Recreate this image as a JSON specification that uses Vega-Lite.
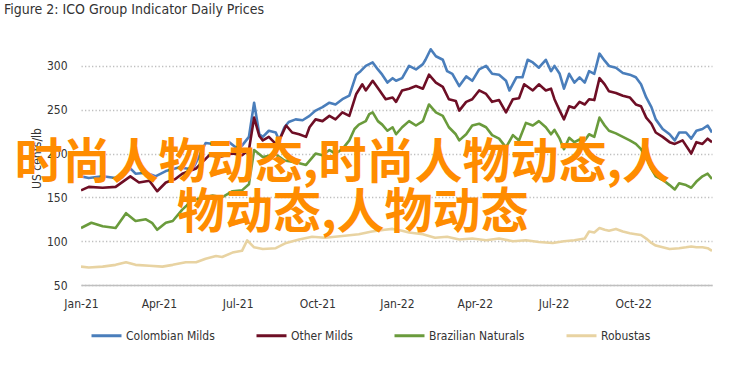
{
  "$schema": "https://vega.github.io/schema/vega-lite/v6.json",
  "width": 631,
  "height": 241,
  "autosize": {"type": "none"},
  "padding": {"left": 81, "top": 44, "right": 30, "bottom": 84},
  "background": "white",
  "config": {
    "font": "Liberation Sans Narrow, DejaVu Sans Condensed, Roboto, sans-serif",
    "view": {"stroke": null}
  },
  "title": {
    "text": "Figure 2: ICO Group Indicator Daily Prices",
    "anchor": "start",
    "frame": "group",
    "orient": "top",
    "dx": -77,
    "offset": 27,
    "fontSize": 14,
    "fontWeight": "normal",
    "color": "#333333"
  },
  "datasets": {
    "prices": [
      {"d": "2021-01-01", "s": "Colombian Milds", "v": 174},
      {"d": "2021-01-10", "s": "Colombian Milds", "v": 172},
      {"d": "2021-01-26", "s": "Colombian Milds", "v": 174},
      {"d": "2021-02-10", "s": "Colombian Milds", "v": 172},
      {"d": "2021-02-18", "s": "Colombian Milds", "v": 173},
      {"d": "2021-02-27", "s": "Colombian Milds", "v": 183},
      {"d": "2021-03-05", "s": "Colombian Milds", "v": 177},
      {"d": "2021-03-17", "s": "Colombian Milds", "v": 178},
      {"d": "2021-03-28", "s": "Colombian Milds", "v": 174},
      {"d": "2021-04-09", "s": "Colombian Milds", "v": 180},
      {"d": "2021-04-24", "s": "Colombian Milds", "v": 184},
      {"d": "2021-05-10", "s": "Colombian Milds", "v": 182},
      {"d": "2021-05-25", "s": "Colombian Milds", "v": 212},
      {"d": "2021-06-10", "s": "Colombian Milds", "v": 210},
      {"d": "2021-06-21", "s": "Colombian Milds", "v": 213},
      {"d": "2021-06-29", "s": "Colombian Milds", "v": 207},
      {"d": "2021-07-06", "s": "Colombian Milds", "v": 209},
      {"d": "2021-07-14", "s": "Colombian Milds", "v": 219},
      {"d": "2021-07-20", "s": "Colombian Milds", "v": 258},
      {"d": "2021-07-26", "s": "Colombian Milds", "v": 222},
      {"d": "2021-07-30", "s": "Colombian Milds", "v": 219},
      {"d": "2021-08-06", "s": "Colombian Milds", "v": 226},
      {"d": "2021-08-14", "s": "Colombian Milds", "v": 224},
      {"d": "2021-08-18", "s": "Colombian Milds", "v": 215},
      {"d": "2021-08-24", "s": "Colombian Milds", "v": 230},
      {"d": "2021-08-29", "s": "Colombian Milds", "v": 236},
      {"d": "2021-09-06", "s": "Colombian Milds", "v": 239},
      {"d": "2021-09-14", "s": "Colombian Milds", "v": 238},
      {"d": "2021-09-22", "s": "Colombian Milds", "v": 243},
      {"d": "2021-09-29", "s": "Colombian Milds", "v": 249},
      {"d": "2021-10-07", "s": "Colombian Milds", "v": 253},
      {"d": "2021-10-15", "s": "Colombian Milds", "v": 258},
      {"d": "2021-10-22", "s": "Colombian Milds", "v": 256},
      {"d": "2021-10-30", "s": "Colombian Milds", "v": 262},
      {"d": "2021-11-07", "s": "Colombian Milds", "v": 266},
      {"d": "2021-11-15", "s": "Colombian Milds", "v": 290},
      {"d": "2021-11-20", "s": "Colombian Milds", "v": 294},
      {"d": "2021-11-26", "s": "Colombian Milds", "v": 300},
      {"d": "2021-12-04", "s": "Colombian Milds", "v": 304},
      {"d": "2021-12-10", "s": "Colombian Milds", "v": 296},
      {"d": "2021-12-15", "s": "Colombian Milds", "v": 290},
      {"d": "2021-12-21", "s": "Colombian Milds", "v": 281},
      {"d": "2021-12-27", "s": "Colombian Milds", "v": 286},
      {"d": "2021-12-31", "s": "Colombian Milds", "v": 283},
      {"d": "2022-01-07", "s": "Colombian Milds", "v": 286},
      {"d": "2022-01-15", "s": "Colombian Milds", "v": 300},
      {"d": "2022-01-23", "s": "Colombian Milds", "v": 296},
      {"d": "2022-01-31", "s": "Colombian Milds", "v": 302},
      {"d": "2022-02-03", "s": "Colombian Milds", "v": 307},
      {"d": "2022-02-09", "s": "Colombian Milds", "v": 319},
      {"d": "2022-02-15", "s": "Colombian Milds", "v": 311},
      {"d": "2022-02-23", "s": "Colombian Milds", "v": 307},
      {"d": "2022-02-28", "s": "Colombian Milds", "v": 294},
      {"d": "2022-03-06", "s": "Colombian Milds", "v": 291},
      {"d": "2022-03-14", "s": "Colombian Milds", "v": 277},
      {"d": "2022-03-22", "s": "Colombian Milds", "v": 288},
      {"d": "2022-03-29", "s": "Colombian Milds", "v": 283},
      {"d": "2022-04-06", "s": "Colombian Milds", "v": 296},
      {"d": "2022-04-14", "s": "Colombian Milds", "v": 300},
      {"d": "2022-04-21", "s": "Colombian Milds", "v": 291},
      {"d": "2022-04-29", "s": "Colombian Milds", "v": 290},
      {"d": "2022-05-07", "s": "Colombian Milds", "v": 283},
      {"d": "2022-05-11", "s": "Colombian Milds", "v": 272},
      {"d": "2022-05-19", "s": "Colombian Milds", "v": 287},
      {"d": "2022-05-26", "s": "Colombian Milds", "v": 287},
      {"d": "2022-06-01", "s": "Colombian Milds", "v": 307},
      {"d": "2022-06-07", "s": "Colombian Milds", "v": 304},
      {"d": "2022-06-14", "s": "Colombian Milds", "v": 298},
      {"d": "2022-06-22", "s": "Colombian Milds", "v": 307},
      {"d": "2022-06-28", "s": "Colombian Milds", "v": 294},
      {"d": "2022-07-02", "s": "Colombian Milds", "v": 300},
      {"d": "2022-07-08", "s": "Colombian Milds", "v": 291},
      {"d": "2022-07-13", "s": "Colombian Milds", "v": 274},
      {"d": "2022-07-19", "s": "Colombian Milds", "v": 291},
      {"d": "2022-07-25", "s": "Colombian Milds", "v": 281},
      {"d": "2022-07-31", "s": "Colombian Milds", "v": 287},
      {"d": "2022-08-06", "s": "Colombian Milds", "v": 281},
      {"d": "2022-08-11", "s": "Colombian Milds", "v": 294},
      {"d": "2022-08-17", "s": "Colombian Milds", "v": 291},
      {"d": "2022-08-23", "s": "Colombian Milds", "v": 314},
      {"d": "2022-08-29", "s": "Colombian Milds", "v": 306},
      {"d": "2022-09-03", "s": "Colombian Milds", "v": 300},
      {"d": "2022-09-11", "s": "Colombian Milds", "v": 298},
      {"d": "2022-09-19", "s": "Colombian Milds", "v": 292},
      {"d": "2022-09-27", "s": "Colombian Milds", "v": 290},
      {"d": "2022-10-04", "s": "Colombian Milds", "v": 287},
      {"d": "2022-10-10", "s": "Colombian Milds", "v": 279},
      {"d": "2022-10-16", "s": "Colombian Milds", "v": 264},
      {"d": "2022-10-22", "s": "Colombian Milds", "v": 253},
      {"d": "2022-10-27", "s": "Colombian Milds", "v": 239},
      {"d": "2022-11-04", "s": "Colombian Milds", "v": 228},
      {"d": "2022-11-12", "s": "Colombian Milds", "v": 222},
      {"d": "2022-11-18", "s": "Colombian Milds", "v": 215},
      {"d": "2022-11-23", "s": "Colombian Milds", "v": 224},
      {"d": "2022-12-01", "s": "Colombian Milds", "v": 224},
      {"d": "2022-12-07", "s": "Colombian Milds", "v": 217},
      {"d": "2022-12-13", "s": "Colombian Milds", "v": 226},
      {"d": "2022-12-20", "s": "Colombian Milds", "v": 228},
      {"d": "2022-12-26", "s": "Colombian Milds", "v": 232},
      {"d": "2022-12-31", "s": "Colombian Milds", "v": 224},

      {"d": "2021-01-01", "s": "Other Milds", "v": 158},
      {"d": "2021-01-10", "s": "Other Milds", "v": 162},
      {"d": "2021-01-26", "s": "Other Milds", "v": 161},
      {"d": "2021-02-10", "s": "Other Milds", "v": 162},
      {"d": "2021-02-27", "s": "Other Milds", "v": 174},
      {"d": "2021-03-09", "s": "Other Milds", "v": 167},
      {"d": "2021-03-21", "s": "Other Milds", "v": 169},
      {"d": "2021-03-30", "s": "Other Milds", "v": 157},
      {"d": "2021-04-09", "s": "Other Milds", "v": 167},
      {"d": "2021-04-20", "s": "Other Milds", "v": 171},
      {"d": "2021-04-28", "s": "Other Milds", "v": 177},
      {"d": "2021-05-14", "s": "Other Milds", "v": 183},
      {"d": "2021-05-29", "s": "Other Milds", "v": 198},
      {"d": "2021-06-10", "s": "Other Milds", "v": 196},
      {"d": "2021-06-25", "s": "Other Milds", "v": 200},
      {"d": "2021-07-06", "s": "Other Milds", "v": 198},
      {"d": "2021-07-14", "s": "Other Milds", "v": 204},
      {"d": "2021-07-20", "s": "Other Milds", "v": 241},
      {"d": "2021-07-26", "s": "Other Milds", "v": 220},
      {"d": "2021-07-30", "s": "Other Milds", "v": 215},
      {"d": "2021-08-06", "s": "Other Milds", "v": 219},
      {"d": "2021-08-14", "s": "Other Milds", "v": 211},
      {"d": "2021-08-18", "s": "Other Milds", "v": 215},
      {"d": "2021-08-26", "s": "Other Milds", "v": 232},
      {"d": "2021-09-02", "s": "Other Milds", "v": 224},
      {"d": "2021-09-10", "s": "Other Milds", "v": 222},
      {"d": "2021-09-18", "s": "Other Milds", "v": 219},
      {"d": "2021-09-22", "s": "Other Milds", "v": 230},
      {"d": "2021-09-29", "s": "Other Milds", "v": 239},
      {"d": "2021-10-07", "s": "Other Milds", "v": 237},
      {"d": "2021-10-15", "s": "Other Milds", "v": 243},
      {"d": "2021-10-22", "s": "Other Milds", "v": 239},
      {"d": "2021-10-30", "s": "Other Milds", "v": 247},
      {"d": "2021-11-07", "s": "Other Milds", "v": 243},
      {"d": "2021-11-15", "s": "Other Milds", "v": 268},
      {"d": "2021-11-22", "s": "Other Milds", "v": 279},
      {"d": "2021-11-26", "s": "Other Milds", "v": 272},
      {"d": "2021-12-04", "s": "Other Milds", "v": 283},
      {"d": "2021-12-12", "s": "Other Milds", "v": 272},
      {"d": "2021-12-19", "s": "Other Milds", "v": 262},
      {"d": "2021-12-27", "s": "Other Milds", "v": 264},
      {"d": "2021-12-31", "s": "Other Milds", "v": 259},
      {"d": "2022-01-07", "s": "Other Milds", "v": 272},
      {"d": "2022-01-15", "s": "Other Milds", "v": 274},
      {"d": "2022-01-23", "s": "Other Milds", "v": 277},
      {"d": "2022-01-31", "s": "Other Milds", "v": 274},
      {"d": "2022-02-07", "s": "Other Milds", "v": 290},
      {"d": "2022-02-15", "s": "Other Milds", "v": 281},
      {"d": "2022-02-23", "s": "Other Milds", "v": 276},
      {"d": "2022-03-02", "s": "Other Milds", "v": 262},
      {"d": "2022-03-10", "s": "Other Milds", "v": 260},
      {"d": "2022-03-14", "s": "Other Milds", "v": 249},
      {"d": "2022-03-22", "s": "Other Milds", "v": 259},
      {"d": "2022-03-29", "s": "Other Milds", "v": 262},
      {"d": "2022-04-06", "s": "Other Milds", "v": 272},
      {"d": "2022-04-14", "s": "Other Milds", "v": 268},
      {"d": "2022-04-21", "s": "Other Milds", "v": 259},
      {"d": "2022-04-29", "s": "Other Milds", "v": 261},
      {"d": "2022-05-07", "s": "Other Milds", "v": 247},
      {"d": "2022-05-15", "s": "Other Milds", "v": 262},
      {"d": "2022-05-22", "s": "Other Milds", "v": 263},
      {"d": "2022-05-28", "s": "Other Milds", "v": 279},
      {"d": "2022-06-07", "s": "Other Milds", "v": 272},
      {"d": "2022-06-14", "s": "Other Milds", "v": 279},
      {"d": "2022-06-22", "s": "Other Milds", "v": 272},
      {"d": "2022-06-28", "s": "Other Milds", "v": 274},
      {"d": "2022-07-02", "s": "Other Milds", "v": 262},
      {"d": "2022-07-08", "s": "Other Milds", "v": 249},
      {"d": "2022-07-13", "s": "Other Milds", "v": 239},
      {"d": "2022-07-19", "s": "Other Milds", "v": 254},
      {"d": "2022-07-25", "s": "Other Milds", "v": 252},
      {"d": "2022-07-31", "s": "Other Milds", "v": 259},
      {"d": "2022-08-06", "s": "Other Milds", "v": 256},
      {"d": "2022-08-11", "s": "Other Milds", "v": 262},
      {"d": "2022-08-17", "s": "Other Milds", "v": 261},
      {"d": "2022-08-23", "s": "Other Milds", "v": 286},
      {"d": "2022-08-29", "s": "Other Milds", "v": 279},
      {"d": "2022-09-03", "s": "Other Milds", "v": 271},
      {"d": "2022-09-11", "s": "Other Milds", "v": 269},
      {"d": "2022-09-19", "s": "Other Milds", "v": 266},
      {"d": "2022-09-27", "s": "Other Milds", "v": 264},
      {"d": "2022-10-04", "s": "Other Milds", "v": 256},
      {"d": "2022-10-10", "s": "Other Milds", "v": 254},
      {"d": "2022-10-16", "s": "Other Milds", "v": 241},
      {"d": "2022-10-22", "s": "Other Milds", "v": 234},
      {"d": "2022-10-27", "s": "Other Milds", "v": 224},
      {"d": "2022-11-04", "s": "Other Milds", "v": 219},
      {"d": "2022-11-12", "s": "Other Milds", "v": 213},
      {"d": "2022-11-18", "s": "Other Milds", "v": 211},
      {"d": "2022-11-27", "s": "Other Milds", "v": 215},
      {"d": "2022-12-07", "s": "Other Milds", "v": 200},
      {"d": "2022-12-13", "s": "Other Milds", "v": 213},
      {"d": "2022-12-20", "s": "Other Milds", "v": 211},
      {"d": "2022-12-26", "s": "Other Milds", "v": 217},
      {"d": "2022-12-31", "s": "Other Milds", "v": 213},

      {"d": "2021-01-01", "s": "Brazilian Naturals", "v": 115},
      {"d": "2021-01-13", "s": "Brazilian Naturals", "v": 121},
      {"d": "2021-01-26", "s": "Brazilian Naturals", "v": 117},
      {"d": "2021-02-10", "s": "Brazilian Naturals", "v": 115},
      {"d": "2021-02-22", "s": "Brazilian Naturals", "v": 132},
      {"d": "2021-03-05", "s": "Brazilian Naturals", "v": 123},
      {"d": "2021-03-17", "s": "Brazilian Naturals", "v": 125},
      {"d": "2021-03-24", "s": "Brazilian Naturals", "v": 121},
      {"d": "2021-03-30", "s": "Brazilian Naturals", "v": 113},
      {"d": "2021-04-09", "s": "Brazilian Naturals", "v": 121},
      {"d": "2021-04-17", "s": "Brazilian Naturals", "v": 123},
      {"d": "2021-04-28", "s": "Brazilian Naturals", "v": 136},
      {"d": "2021-05-10", "s": "Brazilian Naturals", "v": 147},
      {"d": "2021-05-21", "s": "Brazilian Naturals", "v": 149},
      {"d": "2021-06-02", "s": "Brazilian Naturals", "v": 152},
      {"d": "2021-06-13", "s": "Brazilian Naturals", "v": 150},
      {"d": "2021-06-25", "s": "Brazilian Naturals", "v": 157},
      {"d": "2021-07-06", "s": "Brazilian Naturals", "v": 158},
      {"d": "2021-07-14", "s": "Brazilian Naturals", "v": 165},
      {"d": "2021-07-20", "s": "Brazilian Naturals", "v": 204},
      {"d": "2021-07-30", "s": "Brazilian Naturals", "v": 196},
      {"d": "2021-08-14", "s": "Brazilian Naturals", "v": 199},
      {"d": "2021-08-24", "s": "Brazilian Naturals", "v": 192},
      {"d": "2021-09-06", "s": "Brazilian Naturals", "v": 190},
      {"d": "2021-09-18", "s": "Brazilian Naturals", "v": 187},
      {"d": "2021-09-29", "s": "Brazilian Naturals", "v": 200},
      {"d": "2021-10-07", "s": "Brazilian Naturals", "v": 198},
      {"d": "2021-10-15", "s": "Brazilian Naturals", "v": 204},
      {"d": "2021-10-22", "s": "Brazilian Naturals", "v": 200},
      {"d": "2021-10-30", "s": "Brazilian Naturals", "v": 205},
      {"d": "2021-11-07", "s": "Brazilian Naturals", "v": 215},
      {"d": "2021-11-13", "s": "Brazilian Naturals", "v": 228},
      {"d": "2021-11-18", "s": "Brazilian Naturals", "v": 233},
      {"d": "2021-11-26", "s": "Brazilian Naturals", "v": 237},
      {"d": "2021-11-30", "s": "Brazilian Naturals", "v": 245},
      {"d": "2021-12-04", "s": "Brazilian Naturals", "v": 247},
      {"d": "2021-12-10", "s": "Brazilian Naturals", "v": 237},
      {"d": "2021-12-15", "s": "Brazilian Naturals", "v": 233},
      {"d": "2021-12-21", "s": "Brazilian Naturals", "v": 226},
      {"d": "2021-12-27", "s": "Brazilian Naturals", "v": 230},
      {"d": "2021-12-31", "s": "Brazilian Naturals", "v": 222},
      {"d": "2022-01-07", "s": "Brazilian Naturals", "v": 230},
      {"d": "2022-01-15", "s": "Brazilian Naturals", "v": 237},
      {"d": "2022-01-23", "s": "Brazilian Naturals", "v": 232},
      {"d": "2022-01-31", "s": "Brazilian Naturals", "v": 237},
      {"d": "2022-02-07", "s": "Brazilian Naturals", "v": 256},
      {"d": "2022-02-15", "s": "Brazilian Naturals", "v": 247},
      {"d": "2022-02-23", "s": "Brazilian Naturals", "v": 243},
      {"d": "2022-03-02", "s": "Brazilian Naturals", "v": 230},
      {"d": "2022-03-10", "s": "Brazilian Naturals", "v": 222},
      {"d": "2022-03-14", "s": "Brazilian Naturals", "v": 215},
      {"d": "2022-03-22", "s": "Brazilian Naturals", "v": 222},
      {"d": "2022-03-29", "s": "Brazilian Naturals", "v": 232},
      {"d": "2022-04-06", "s": "Brazilian Naturals", "v": 234},
      {"d": "2022-04-14", "s": "Brazilian Naturals", "v": 230},
      {"d": "2022-04-21", "s": "Brazilian Naturals", "v": 221},
      {"d": "2022-04-29", "s": "Brazilian Naturals", "v": 217},
      {"d": "2022-05-07", "s": "Brazilian Naturals", "v": 207},
      {"d": "2022-05-15", "s": "Brazilian Naturals", "v": 221},
      {"d": "2022-05-22", "s": "Brazilian Naturals", "v": 215},
      {"d": "2022-05-30", "s": "Brazilian Naturals", "v": 235},
      {"d": "2022-06-07", "s": "Brazilian Naturals", "v": 232},
      {"d": "2022-06-14", "s": "Brazilian Naturals", "v": 237},
      {"d": "2022-06-22", "s": "Brazilian Naturals", "v": 230},
      {"d": "2022-06-28", "s": "Brazilian Naturals", "v": 222},
      {"d": "2022-07-02", "s": "Brazilian Naturals", "v": 227},
      {"d": "2022-07-08", "s": "Brazilian Naturals", "v": 217},
      {"d": "2022-07-13", "s": "Brazilian Naturals", "v": 205},
      {"d": "2022-07-19", "s": "Brazilian Naturals", "v": 218},
      {"d": "2022-07-25", "s": "Brazilian Naturals", "v": 213},
      {"d": "2022-07-31", "s": "Brazilian Naturals", "v": 216},
      {"d": "2022-08-06", "s": "Brazilian Naturals", "v": 215},
      {"d": "2022-08-11", "s": "Brazilian Naturals", "v": 222},
      {"d": "2022-08-17", "s": "Brazilian Naturals", "v": 219},
      {"d": "2022-08-23", "s": "Brazilian Naturals", "v": 241},
      {"d": "2022-08-29", "s": "Brazilian Naturals", "v": 232},
      {"d": "2022-09-03", "s": "Brazilian Naturals", "v": 226},
      {"d": "2022-09-11", "s": "Brazilian Naturals", "v": 223},
      {"d": "2022-09-19", "s": "Brazilian Naturals", "v": 219},
      {"d": "2022-09-27", "s": "Brazilian Naturals", "v": 215},
      {"d": "2022-10-04", "s": "Brazilian Naturals", "v": 211},
      {"d": "2022-10-10", "s": "Brazilian Naturals", "v": 205},
      {"d": "2022-10-16", "s": "Brazilian Naturals", "v": 196},
      {"d": "2022-10-22", "s": "Brazilian Naturals", "v": 183},
      {"d": "2022-10-27", "s": "Brazilian Naturals", "v": 174},
      {"d": "2022-11-04", "s": "Brazilian Naturals", "v": 170},
      {"d": "2022-11-12", "s": "Brazilian Naturals", "v": 164},
      {"d": "2022-11-18", "s": "Brazilian Naturals", "v": 159},
      {"d": "2022-11-23", "s": "Brazilian Naturals", "v": 166},
      {"d": "2022-12-01", "s": "Brazilian Naturals", "v": 164},
      {"d": "2022-12-07", "s": "Brazilian Naturals", "v": 161},
      {"d": "2022-12-13", "s": "Brazilian Naturals", "v": 168},
      {"d": "2022-12-20", "s": "Brazilian Naturals", "v": 174},
      {"d": "2022-12-26", "s": "Brazilian Naturals", "v": 177},
      {"d": "2022-12-31", "s": "Brazilian Naturals", "v": 171},

      {"d": "2021-01-01", "s": "Robustas", "v": 71},
      {"d": "2021-01-10", "s": "Robustas", "v": 70},
      {"d": "2021-01-26", "s": "Robustas", "v": 71},
      {"d": "2021-02-10", "s": "Robustas", "v": 73},
      {"d": "2021-02-22", "s": "Robustas", "v": 76},
      {"d": "2021-03-05", "s": "Robustas", "v": 73},
      {"d": "2021-03-21", "s": "Robustas", "v": 72},
      {"d": "2021-04-05", "s": "Robustas", "v": 71},
      {"d": "2021-04-17", "s": "Robustas", "v": 73},
      {"d": "2021-05-02", "s": "Robustas", "v": 76},
      {"d": "2021-05-14", "s": "Robustas", "v": 76},
      {"d": "2021-05-25", "s": "Robustas", "v": 80},
      {"d": "2021-06-06", "s": "Robustas", "v": 83},
      {"d": "2021-06-13", "s": "Robustas", "v": 82},
      {"d": "2021-06-25", "s": "Robustas", "v": 87},
      {"d": "2021-07-06", "s": "Robustas", "v": 89},
      {"d": "2021-07-12", "s": "Robustas", "v": 101},
      {"d": "2021-07-20", "s": "Robustas", "v": 93},
      {"d": "2021-07-30", "s": "Robustas", "v": 91},
      {"d": "2021-08-14", "s": "Robustas", "v": 92},
      {"d": "2021-08-26", "s": "Robustas", "v": 98},
      {"d": "2021-09-10", "s": "Robustas", "v": 102},
      {"d": "2021-09-25", "s": "Robustas", "v": 105},
      {"d": "2021-10-10", "s": "Robustas", "v": 104},
      {"d": "2021-10-30", "s": "Robustas", "v": 106},
      {"d": "2021-11-18", "s": "Robustas", "v": 108},
      {"d": "2021-12-03", "s": "Robustas", "v": 111},
      {"d": "2021-12-18", "s": "Robustas", "v": 113},
      {"d": "2021-12-27", "s": "Robustas", "v": 114},
      {"d": "2022-01-07", "s": "Robustas", "v": 112},
      {"d": "2022-01-15", "s": "Robustas", "v": 110},
      {"d": "2022-01-31", "s": "Robustas", "v": 108},
      {"d": "2022-02-14", "s": "Robustas", "v": 104},
      {"d": "2022-02-28", "s": "Robustas", "v": 105},
      {"d": "2022-03-14", "s": "Robustas", "v": 102},
      {"d": "2022-03-29", "s": "Robustas", "v": 103},
      {"d": "2022-04-14", "s": "Robustas", "v": 101},
      {"d": "2022-04-29", "s": "Robustas", "v": 103},
      {"d": "2022-05-15", "s": "Robustas", "v": 100},
      {"d": "2022-05-30", "s": "Robustas", "v": 101},
      {"d": "2022-06-14", "s": "Robustas", "v": 99},
      {"d": "2022-06-30", "s": "Robustas", "v": 98},
      {"d": "2022-07-13", "s": "Robustas", "v": 100},
      {"d": "2022-07-25", "s": "Robustas", "v": 101},
      {"d": "2022-08-06", "s": "Robustas", "v": 103},
      {"d": "2022-08-11", "s": "Robustas", "v": 111},
      {"d": "2022-08-17", "s": "Robustas", "v": 110},
      {"d": "2022-08-23", "s": "Robustas", "v": 115},
      {"d": "2022-08-29", "s": "Robustas", "v": 113},
      {"d": "2022-09-03", "s": "Robustas", "v": 112},
      {"d": "2022-09-11", "s": "Robustas", "v": 114},
      {"d": "2022-09-19", "s": "Robustas", "v": 111},
      {"d": "2022-09-27", "s": "Robustas", "v": 109},
      {"d": "2022-10-04", "s": "Robustas", "v": 108},
      {"d": "2022-10-10", "s": "Robustas", "v": 107},
      {"d": "2022-10-16", "s": "Robustas", "v": 103},
      {"d": "2022-10-22", "s": "Robustas", "v": 98},
      {"d": "2022-10-27", "s": "Robustas", "v": 95},
      {"d": "2022-11-04", "s": "Robustas", "v": 93},
      {"d": "2022-11-12", "s": "Robustas", "v": 91},
      {"d": "2022-11-23", "s": "Robustas", "v": 92},
      {"d": "2022-12-01", "s": "Robustas", "v": 93},
      {"d": "2022-12-07", "s": "Robustas", "v": 94},
      {"d": "2022-12-13", "s": "Robustas", "v": 93},
      {"d": "2022-12-20", "s": "Robustas", "v": 93},
      {"d": "2022-12-26", "s": "Robustas", "v": 92},
      {"d": "2022-12-31", "s": "Robustas", "v": 89}
    ],
    "overlay": [
      {"d": "2021-10-30", "v": 188, "t": "时尚人物动态,时尚人物动态,人"},
      {"d": "2021-11-11", "v": 131, "t": "物动态,人物动态"}
    ]
  },
  "layer": [
    {
      "data": {"name": "prices"},
      "mark": {"type": "line", "strokeWidth": 2.6, "strokeJoin": "round", "clip": true},
      "encoding": {
        "x": {
          "field": "d",
          "type": "temporal",
          "scale": {"type": "utc", "domain": [{"year": 2021, "month": 1, "date": 1, "utc": true}, {"year": 2022, "month": 12, "date": 31, "utc": true}]},
          "axis": {
            "title": null,
            "format": "%b-%y",
            "values": [
              {"year": 2021, "month": 1, "date": 1, "utc": true},
              {"year": 2021, "month": 4, "date": 1, "utc": true},
              {"year": 2021, "month": 7, "date": 1, "utc": true},
              {"year": 2021, "month": 10, "date": 1, "utc": true},
              {"year": 2022, "month": 1, "date": 1, "utc": true},
              {"year": 2022, "month": 4, "date": 1, "utc": true},
              {"year": 2022, "month": 7, "date": 1, "utc": true},
              {"year": 2022, "month": 10, "date": 1, "utc": true}
            ],
            "grid": false,
            "ticks": false,
            "domain": true,
            "domainColor": "#BFBFBF",
            "domainWidth": 1.3,
            "labelPadding": 13,
            "labelFontSize": 12,
            "labelColor": "#333333",
            "labelFlush": false,
            "labelOverlap": false,
            "zindex": 1
          }
        },
        "y": {
          "field": "v",
          "type": "quantitative",
          "scale": {"domain": [50, 325], "nice": false, "zero": false},
          "axis": {
            "title": "US cents/lb",
            "titleFontSize": 12,
            "titleFontWeight": "normal",
            "titleColor": "#333333",
            "titlePadding": 3,
            "titleY": 114,
            "values": [50, 75, 100, 125, 150, 175, 200, 225, 250, 275, 300, 325],
            "grid": true,
            "gridColor": "#BFBFBF",
            "gridDash": [1.3, 2.2],
            "gridWidth": 1.3,
            "ticks": false,
            "domain": false,
            "labelPadding": 14,
            "labelFontSize": 12,
            "labelColor": "#333333"
          }
        },
        "color": {
          "field": "s",
          "type": "nominal",
          "scale": {
            "domain": ["Colombian Milds", "Other Milds", "Brazilian Naturals", "Robustas"],
            "range": ["#4A7EBB", "#6E0E25", "#6A9B3C", "#E8D3A2"]
          },
          "legend": {
            "title": null,
            "orient": "none",
            "direction": "horizontal",
            "legendX": 9,
            "legendY": 275,
            "symbolType": "stroke",
            "symbolSize": 900,
            "symbolStrokeWidth": 3,
            "columnPadding": 35,
            "labelFontSize": 12,
            "labelColor": "#333333",
            "labelOffset": 3
          }
        }
      }
    },
    {
      "data": {"name": "overlay"},
      "mark": {
        "type": "text",
        "font": "Noto Sans CJK SC",
        "fontSize": 48,
        "fontWeight": "bold",
        "color": "#FF8C00",
        "align": "center",
        "baseline": "middle"
      },
      "encoding": {
        "x": {"field": "d", "type": "temporal"},
        "y": {"field": "v", "type": "quantitative"},
        "text": {"field": "t", "type": "nominal"}
      }
    }
  ]
}
